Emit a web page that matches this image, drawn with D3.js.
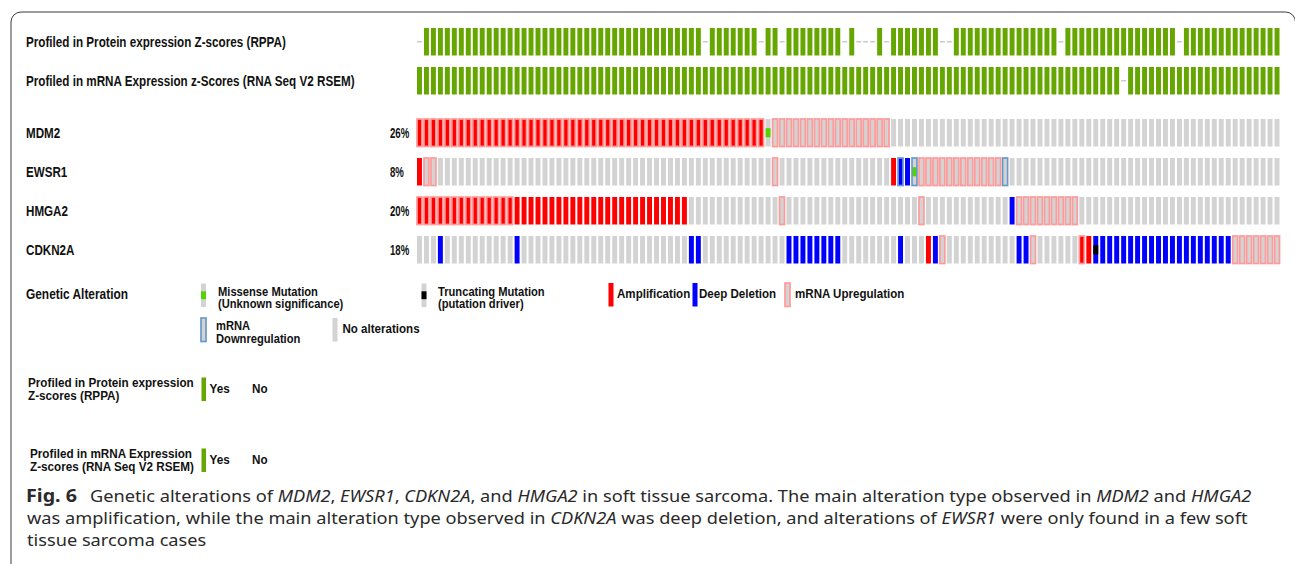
<!DOCTYPE html>
<html lang="en">
<head>
<meta charset="utf-8"/>
<title>Oncoprint: MDM2, EWSR1, HMGA2, CDKN2A</title>
<script src="https://cdnjs.cloudflare.com/ajax/libs/d3/7.8.5/d3.min.js"></script>
<style>
  body { margin: 0; background: #fff; }
  svg { display: block; }
  .lbl { font-family: "Liberation Sans", Arial, sans-serif; font-weight: bold; fill: #111; }
  .cap { font-family: "Noto Sans", "Open Sans", sans-serif; font-size: 16px; fill: #2a2a2a; }
</style>
</head>
<body>
<div id="chart"></div>
<script>
// number of samples (columns) shown
var nSamples = 124;

// columns that were NOT profiled in each profile track
var rppaNotProfiled = [0, 41, 49, 52, 61, 63, 64, 65, 67, 75, 76, 92, 109];
var mrnaNotProfiled = [101];
var profileTracks = ["Profiled in Protein expression Z-scores (RPPA)", "Profiled in mRNA Expression z-Scores (RNA Seq V2 RSEM)"];

var genes = ["MDM2", "EWSR1", "HMGA2", "CDKN2A"];
var genePercent = ["26%", "8%", "20%", "18%"];

// alterations, each as [gene, first column, last column]
var amplification = [["MDM2", 0, 49], ["EWSR1", 0, 0], ["EWSR1", 68, 68], ["HMGA2", 0, 38],
  ["CDKN2A", 73, 73], ["CDKN2A", 95, 96]];
var deepDeletion = [["EWSR1", 69, 70], ["HMGA2", 85, 85], ["CDKN2A", 3, 3], ["CDKN2A", 14, 14],
  ["CDKN2A", 39, 40], ["CDKN2A", 53, 60], ["CDKN2A", 69, 69], ["CDKN2A", 74, 74],
  ["CDKN2A", 86, 87], ["CDKN2A", 97, 116]];
var mrnaUp = [["MDM2", 0, 49], ["MDM2", 51, 67], ["EWSR1", 1, 2], ["EWSR1", 51, 51], ["EWSR1", 72, 83],
  ["HMGA2", 0, 13], ["HMGA2", 52, 52], ["HMGA2", 72, 72], ["HMGA2", 86, 94],
  ["CDKN2A", 75, 75], ["CDKN2A", 88, 88], ["CDKN2A", 95, 95], ["CDKN2A", 117, 123]];
var mrnaDown = [["EWSR1", 69, 69], ["EWSR1", 71, 71], ["EWSR1", 84, 84]];
var missense = [["MDM2", 50, 50], ["EWSR1", 71, 71]];
var truncating = [["CDKN2A", 97, 97]];

var colors = {
  none: "#d3d3d3", amp: "#ff0000", del: "#0000ff", up: "#ff9a9a", down: "#6a9acb",
  missense: "#53d400", trunc: "#000000", profiled: "#66a600", notProfiled: "#c8c8c8"
};

// build the cell matrix from the runs
var cells = [];
genes.forEach(function(g) {
  for (var i = 0; i < nSamples; i++) cells.push({gene: g, col: i});
});
function cellAt(g, i) { return cells[genes.indexOf(g) * nSamples + i]; }
function applyRuns(runs, key, value) {
  runs.forEach(function(r) {
    for (var i = r[1]; i <= r[2]; i++) cellAt(r[0], i)[key] = value;
  });
}
applyRuns(amplification, "base", "amp");
applyRuns(deepDeletion, "base", "del");
applyRuns(mrnaUp, "reg", "up");
applyRuns(mrnaDown, "reg", "down");
applyRuns(missense, "mut", "missense");
applyRuns(truncating, "mut", "trunc");

var W = 1295, H = 564;
var svg = d3.select("#chart").append("svg").attr("width", W).attr("height", H);

// figure frame (rounded box, clipped at right/bottom)
svg.append("rect")
  .attr("x", 11).attr("y", 12).attr("width", 1284.5).attr("height", 640).attr("rx", 10)
  .attr("fill", "none").attr("stroke", "#3a3a3a").attr("stroke-width", 1);

// scales
var x = d3.scaleBand().domain(d3.range(nSamples)).range([417, 1279.5]).paddingInner(0.29);
var yProf = d3.scaleBand().domain([0, 1]).range([28, 94.5]).paddingInner(0.295);
var yGene = d3.scaleBand().domain(genes).range([119, 263.5]).paddingInner(0.295);

// draws one oncoprint glyph into a group positioned at the cell's top-left
function drawCell(g, d, w, h) {
  g.append("rect").attr("width", w).attr("height", h)
    .attr("fill", d.base ? colors[d.base] : colors.none);
  if (d.mut) {
    g.append("rect").attr("y", h / 3).attr("width", w).attr("height", h / 3)
      .attr("fill", colors[d.mut]);
  }
  if (d.reg) {
    g.append("rect").attr("width", w).attr("height", h)
      .attr("fill", "none").attr("stroke", colors[d.reg]).attr("stroke-width", 1.7);
  }
}

// bold label, condensed horizontally
function label(parent, tx, ty, str, size, sx) {
  return parent.append("text").attr("class", "lbl")
    .style("font-size", size + "px")
    .attr("transform", "translate(" + tx + "," + ty + ") scale(" + sx + ",1)")
    .text(str);
}

// profile tracks
var profMissing = [rppaNotProfiled, mrnaNotProfiled];
profMissing.forEach(function(missing, t) {
  var track = svg.append("g").attr("class", "profile-track");
  track.selectAll("rect")
    .data(d3.range(nSamples))
    .join("rect")
    .attr("x", function(i) { return x(i); })
    .attr("width", x.bandwidth())
    .attr("y", function(i) { return missing.indexOf(i) >= 0 ? yProf(t) + yProf.bandwidth() / 2 - 0.7 : yProf(t); })
    .attr("height", function(i) { return missing.indexOf(i) >= 0 ? 1.4 : yProf.bandwidth(); })
    .attr("fill", function(i) { return missing.indexOf(i) >= 0 ? colors.notProfiled : colors.profiled; });
  label(svg, 26, yProf(t) + yProf.bandwidth() / 2 + 5, profileTracks[t], 14, 0.835);
});

// gene tracks
svg.append("g").attr("class", "genes")
  .selectAll("g")
  .data(cells)
  .join("g")
  .attr("transform", function(d) { return "translate(" + x(d.col) + "," + yGene(d.gene) + ")"; })
  .each(function(d) { drawCell(d3.select(this), d, x.bandwidth(), yGene.bandwidth()); });

genes.forEach(function(g, k) {
  var cy = yGene(g) + yGene.bandwidth() / 2 + 5;
  label(svg, 26, cy, g, 14, 0.83);
  label(svg, 390, cy, genePercent[k], 14, 0.69);
});

// legend: genetic alteration
var legend = svg.append("g").attr("class", "legend");
label(legend, 26, 299, "Genetic Alteration", 14, 0.85);
var legendItems = [
  {x: 201, y: 283.5, cell: {mut: "missense"}, text: ["Missense Mutation", "(Unknown significance)"], tx: 218},
  {x: 421.5, y: 283.5, cell: {mut: "trunc"}, text: ["Truncating Mutation", "(putation driver)"], tx: 438},
  {x: 608.5, y: 283, cell: {base: "amp"}, text: ["Amplification"], tx: 617},
  {x: 692.5, y: 283, cell: {base: "del"}, text: ["Deep Deletion"], tx: 699},
  {x: 785, y: 283, cell: {reg: "up"}, text: ["mRNA Upregulation"], tx: 795},
  {x: 201, y: 318, cell: {reg: "down"}, text: ["mRNA", "Downregulation"], tx: 216},
  {x: 332.5, y: 318, cell: {}, text: ["No alterations"], tx: 342.5}
];
legendItems.forEach(function(it) {
  var g = legend.append("g").attr("transform", "translate(" + it.x + "," + it.y + ")");
  drawCell(g, it.cell, 5, 23.5);
  if (it.text.length === 2) {
    label(legend, it.tx, it.y + 12, it.text[0], 13, 0.86);
    label(legend, it.tx, it.y + 24.5, it.text[1], 13, 0.86);
  } else {
    label(legend, it.tx, it.y + 15, it.text[0], 13, 0.89);
  }
});

// legend: profiled tracks
var profLegend = [["Profiled in Protein expression", "Z-scores (RPPA)"], ["Profiled in mRNA Expression", "Z-scores (RNA Seq V2 RSEM)"]];
[377.5, 448.5].forEach(function(y0, k) {
  label(legend, k === 0 ? 28 : 30, y0 + 9, profLegend[k][0], 13, 0.9);
  label(legend, k === 0 ? 28 : 30, y0 + 22, profLegend[k][1], 13, 0.9);
  legend.append("rect").attr("x", 201.5).attr("y", y0).attr("width", 4.5).attr("height", 23.5)
    .attr("fill", colors.profiled);
  label(legend, 209.5, y0 + 15, "Yes", 13, 0.9);
  label(legend, 252, y0 + 15, "No", 13, 0.9);
});

// caption
function fitX(t, tx, ty, targetW) {
  var s = targetW / t.node().getComputedTextLength();
  t.attr("transform", "translate(" + tx + "," + ty + ") scale(" + s + ",1)");
  return s;
}
function captionLine(parts) {
  var t = svg.append("text").attr("class", "cap");
  parts.forEach(function(p) {
    var ts = t.append("tspan").text(p[0]);
    if (p[1]) ts.attr("font-style", "italic");
  });
  return t;
}
var fig = svg.append("text").attr("class", "cap").attr("font-weight", "bold")
  .style("font-size", "17px").text("Fig. 6");
fitX(fig, 26, 502, 51);
var cap1 = captionLine([["Genetic alterations of "], ["MDM2", 1], [", "], ["EWSR1", 1], [", "], ["CDKN2A", 1],
  [", and "], ["HMGA2", 1], [" in soft tissue sarcoma. The main alteration type observed in "], ["MDM2", 1],
  [" and "], ["HMGA2", 1]]);
fitX(cap1, 90, 502, 1162);
var cap2 = captionLine([["was amplification, while the main alteration type observed in "], ["CDKN2A", 1],
  [" was deep deletion, and alterations of "], ["EWSR1", 1], [" were only found in a few soft"]]);
var s2 = fitX(cap2, 27, 524, 1221);
var cap3 = captionLine([["tissue sarcoma cases"]]);
cap3.attr("transform", "translate(27,546) scale(" + s2 + ",1)");
</script>
</body>
</html>
